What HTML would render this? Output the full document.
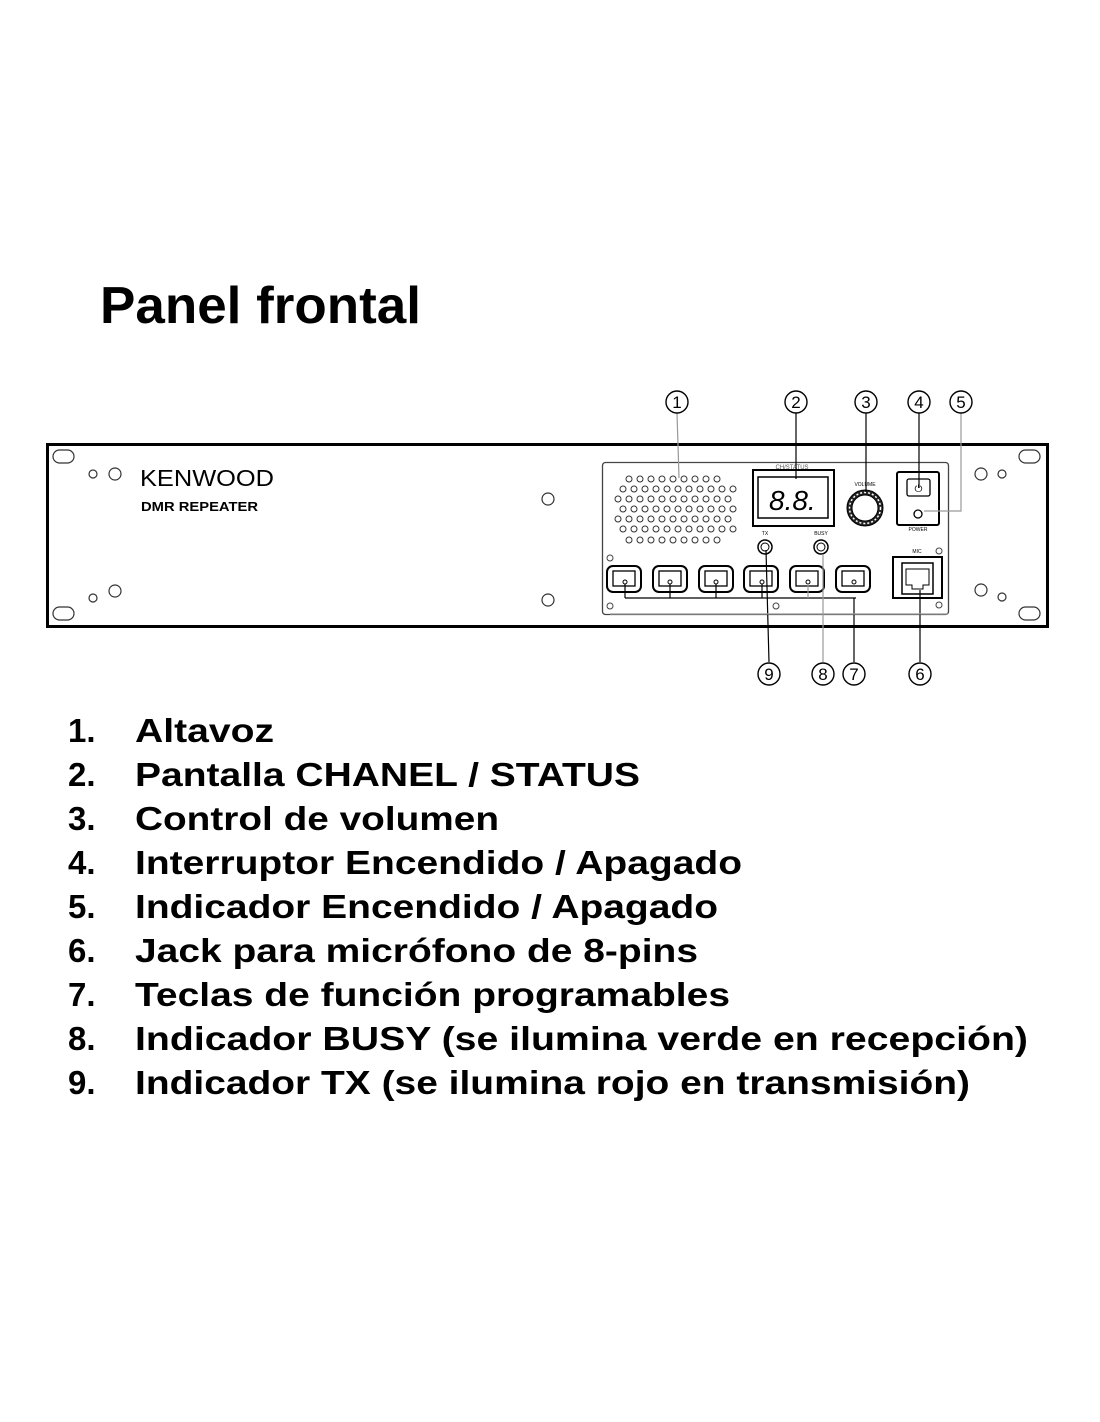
<!DOCTYPE html>
<html><head><meta charset="utf-8"><style>
html,body{margin:0;padding:0;background:#fff;}
svg{display:block;}
text{font-family:"Liberation Sans",Arial,sans-serif;}
</style></head><body>
<svg width="1100" height="1422" viewBox="0 0 1100 1422" xmlns="http://www.w3.org/2000/svg">
<rect width="1100" height="1422" fill="#fff"/>
<text x="100" y="323" font-size="52" font-weight="bold" textLength="321" lengthAdjust="spacingAndGlyphs">Panel frontal</text>

<!-- rack panel -->
<rect x="47.5" y="444.5" width="1000" height="182" fill="#fff" stroke="#000" stroke-width="3"/>
<g fill="none" stroke="#333" stroke-width="1.2">
<rect x="53" y="450" width="21" height="13" rx="6.5"/>
<rect x="53" y="607" width="21" height="13" rx="6.5"/>
<rect x="1019" y="450" width="21" height="13" rx="6.5"/>
<rect x="1019" y="607" width="21" height="13" rx="6.5"/>
<circle cx="93" cy="474" r="4"/><circle cx="115" cy="474" r="6"/>
<circle cx="93" cy="598" r="4"/><circle cx="115" cy="591" r="6"/>
<circle cx="548" cy="499" r="6"/><circle cx="548" cy="600" r="6"/>
<circle cx="981" cy="474" r="6"/><circle cx="1002" cy="474" r="4"/>
<circle cx="981" cy="590" r="6"/><circle cx="1002" cy="597" r="4"/>
</g>
<text x="140" y="486" font-size="23" textLength="134" lengthAdjust="spacingAndGlyphs">KENWOOD</text>
<text x="141" y="511" font-size="13" font-weight="bold" textLength="117" lengthAdjust="spacingAndGlyphs">DMR REPEATER</text>

<!-- inner panel -->
<rect x="602.5" y="462.5" width="346" height="152" rx="3" fill="none" stroke="#444" stroke-width="1.3"/>
<!-- speaker grille -->
<g fill="none" stroke="#333" stroke-width="1">
<g id="row">
</g>
</g>
<g fill="none" stroke="#333" stroke-width="1">
<circle cx="629" cy="479" r="3"/><circle cx="640" cy="479" r="3"/><circle cx="651" cy="479" r="3"/><circle cx="662" cy="479" r="3"/><circle cx="673" cy="479" r="3"/><circle cx="684" cy="479" r="3"/><circle cx="695" cy="479" r="3"/><circle cx="706" cy="479" r="3"/><circle cx="717" cy="479" r="3"/>
<circle cx="623" cy="489" r="3"/><circle cx="634" cy="489" r="3"/><circle cx="645" cy="489" r="3"/><circle cx="656" cy="489" r="3"/><circle cx="667" cy="489" r="3"/><circle cx="678" cy="489" r="3"/><circle cx="689" cy="489" r="3"/><circle cx="700" cy="489" r="3"/><circle cx="711" cy="489" r="3"/><circle cx="722" cy="489" r="3"/><circle cx="733" cy="489" r="3"/>
<circle cx="618" cy="499" r="3"/><circle cx="629" cy="499" r="3"/><circle cx="640" cy="499" r="3"/><circle cx="651" cy="499" r="3"/><circle cx="662" cy="499" r="3"/><circle cx="673" cy="499" r="3"/><circle cx="684" cy="499" r="3"/><circle cx="695" cy="499" r="3"/><circle cx="706" cy="499" r="3"/><circle cx="717" cy="499" r="3"/><circle cx="728" cy="499" r="3"/>
<circle cx="623" cy="509" r="3"/><circle cx="634" cy="509" r="3"/><circle cx="645" cy="509" r="3"/><circle cx="656" cy="509" r="3"/><circle cx="667" cy="509" r="3"/><circle cx="678" cy="509" r="3"/><circle cx="689" cy="509" r="3"/><circle cx="700" cy="509" r="3"/><circle cx="711" cy="509" r="3"/><circle cx="722" cy="509" r="3"/><circle cx="733" cy="509" r="3"/>
<circle cx="618" cy="519" r="3"/><circle cx="629" cy="519" r="3"/><circle cx="640" cy="519" r="3"/><circle cx="651" cy="519" r="3"/><circle cx="662" cy="519" r="3"/><circle cx="673" cy="519" r="3"/><circle cx="684" cy="519" r="3"/><circle cx="695" cy="519" r="3"/><circle cx="706" cy="519" r="3"/><circle cx="717" cy="519" r="3"/><circle cx="728" cy="519" r="3"/>
<circle cx="623" cy="529" r="3"/><circle cx="634" cy="529" r="3"/><circle cx="645" cy="529" r="3"/><circle cx="656" cy="529" r="3"/><circle cx="667" cy="529" r="3"/><circle cx="678" cy="529" r="3"/><circle cx="689" cy="529" r="3"/><circle cx="700" cy="529" r="3"/><circle cx="711" cy="529" r="3"/><circle cx="722" cy="529" r="3"/><circle cx="733" cy="529" r="3"/>
<circle cx="629" cy="540" r="3"/><circle cx="640" cy="540" r="3"/><circle cx="651" cy="540" r="3"/><circle cx="662" cy="540" r="3"/><circle cx="673" cy="540" r="3"/><circle cx="684" cy="540" r="3"/><circle cx="695" cy="540" r="3"/><circle cx="706" cy="540" r="3"/><circle cx="717" cy="540" r="3"/>
</g>

<!-- display -->
<rect x="753" y="470" width="81" height="56" fill="none" stroke="#000" stroke-width="2"/>
<rect x="758" y="477" width="70" height="41" fill="none" stroke="#000" stroke-width="1.5"/>
<text x="792" y="469" font-size="6" text-anchor="middle" fill="#555">CH/STATUS</text>
<text x="769" y="510" font-size="28" font-style="italic" fill="#000">8.8.</text>
<!-- volume knob -->
<text x="865" y="486" font-size="5" text-anchor="middle">VOLUME</text>
<circle cx="865" cy="508" r="18" fill="#222" stroke="#000"/>
<circle cx="865" cy="508" r="13" fill="#fff" stroke="#000"/>
<circle cx="865" cy="508" r="15.5" fill="none" stroke="#fff" stroke-width="1.5" stroke-dasharray="2 2"/>
<!-- power -->
<rect x="897" y="472" width="42" height="53" rx="2" fill="none" stroke="#000" stroke-width="2"/>
<rect x="907" y="479" width="23" height="17" rx="2" fill="none" stroke="#000" stroke-width="1.3"/>
<text x="918.5" y="492" font-size="10" text-anchor="middle">⏻</text>
<circle cx="918" cy="514" r="4" fill="none" stroke="#000" stroke-width="1.3"/>
<text x="918" y="531" font-size="5" text-anchor="middle">POWER</text>
<!-- TX / BUSY -->
<text x="765" y="535" font-size="5" text-anchor="middle">TX</text>
<text x="821" y="535" font-size="5" text-anchor="middle">BUSY</text>
<circle cx="765" cy="547" r="7" fill="none" stroke="#000" stroke-width="1.5"/><circle cx="765" cy="547" r="4" fill="none" stroke="#000"/>
<circle cx="821" cy="547" r="7" fill="none" stroke="#000" stroke-width="1.5"/><circle cx="821" cy="547" r="4" fill="none" stroke="#000"/>
<!-- small screws in inner panel -->
<g fill="none" stroke="#444"><circle cx="610" cy="558" r="3"/><circle cx="610" cy="606" r="3"/><circle cx="776" cy="606" r="3"/><circle cx="939" cy="551" r="3"/><circle cx="939" cy="605" r="3"/></g>
<!-- function keys -->
<g fill="none" stroke="#000">
<rect x="607" y="566" width="34" height="26" rx="6" stroke-width="2"/><rect x="613" y="571" width="22" height="15" stroke-width="1.3"/><circle cx="625" cy="582" r="2"/>
<rect x="653" y="566" width="34" height="26" rx="6" stroke-width="2"/><rect x="659" y="571" width="22" height="15" stroke-width="1.3"/><circle cx="670" cy="582" r="2"/>
<rect x="699" y="566" width="34" height="26" rx="6" stroke-width="2"/><rect x="705" y="571" width="22" height="15" stroke-width="1.3"/><circle cx="716" cy="582" r="2"/>
<rect x="744" y="566" width="34" height="26" rx="6" stroke-width="2"/><rect x="750" y="571" width="22" height="15" stroke-width="1.3"/><circle cx="762" cy="582" r="2"/>
<rect x="790" y="566" width="34" height="26" rx="6" stroke-width="2"/><rect x="796" y="571" width="22" height="15" stroke-width="1.3"/><circle cx="808" cy="582" r="2"/>
<rect x="836" y="566" width="34" height="26" rx="6" stroke-width="2"/><rect x="842" y="571" width="22" height="15" stroke-width="1.3"/><circle cx="854" cy="582" r="2"/>
</g>
<!-- mic jack -->
<text x="917" y="553" font-size="5" text-anchor="middle">MIC</text>
<rect x="893" y="557" width="49" height="41" fill="none" stroke="#000" stroke-width="2"/>
<rect x="902" y="563" width="31" height="31" fill="none" stroke="#000" stroke-width="1.5"/>
<path d="M906 569 h23 v16 h-6 v4 h-11 v-4 h-6 z" fill="none" stroke="#000"/>

<!-- leader lines -->
<g fill="none" stroke="#000" stroke-width="1.2">
<line x1="796" y1="413" x2="796" y2="479"/>
<line x1="866" y1="413" x2="866" y2="492"/>
<line x1="919" y1="413" x2="919" y2="488"/>
<line x1="769" y1="662" x2="766" y2="550"/>
<line x1="854" y1="662" x2="854" y2="598"/>
<line x1="625" y1="598" x2="856" y2="598"/>
<line x1="625" y1="584" x2="625" y2="598"/><line x1="670" y1="584" x2="670" y2="598"/><line x1="716" y1="584" x2="716" y2="598"/><line x1="762" y1="584" x2="762" y2="598"/>
<line x1="920" y1="662" x2="920" y2="590"/>
</g>
<g fill="none" stroke="#999" stroke-width="1.2">
<line x1="677" y1="413" x2="679" y2="478"/>
<polyline points="961,413 961,511 924,511"/>
<line x1="823" y1="662" x2="823" y2="554"/>
<line x1="808" y1="584" x2="808" y2="598"/>
<line x1="610" y1="614" x2="948" y2="614"/>
</g>

<!-- callout numbers -->
<g fill="none" stroke="#000" stroke-width="1.4">
<circle cx="677" cy="402" r="11"/><circle cx="796" cy="402" r="11"/><circle cx="866" cy="402" r="11"/><circle cx="919" cy="402" r="11"/><circle cx="961" cy="402" r="11"/>
<circle cx="769" cy="674" r="11"/><circle cx="823" cy="674" r="11"/><circle cx="854" cy="674" r="11"/><circle cx="920" cy="674" r="11"/>
</g>
<g font-size="17" text-anchor="middle">
<text x="677" y="408">1</text><text x="796" y="408">2</text><text x="866" y="408">3</text><text x="919" y="408">4</text><text x="961" y="408">5</text>
<text x="769" y="680">9</text><text x="823" y="680">8</text><text x="854" y="680">7</text><text x="920" y="680">6</text>
</g>

<!-- list -->
<g font-size="33" font-weight="bold">
<text x="68" y="742">1.</text><text x="135" y="742" textLength="139" lengthAdjust="spacingAndGlyphs">Altavoz</text>
<text x="68" y="786">2.</text><text x="135" y="786" textLength="505" lengthAdjust="spacingAndGlyphs">Pantalla CHANEL / STATUS</text>
<text x="68" y="830">3.</text><text x="135" y="830" textLength="364" lengthAdjust="spacingAndGlyphs">Control de volumen</text>
<text x="68" y="874">4.</text><text x="135" y="874" textLength="607" lengthAdjust="spacingAndGlyphs">Interruptor Encendido / Apagado</text>
<text x="68" y="918">5.</text><text x="135" y="918" textLength="583" lengthAdjust="spacingAndGlyphs">Indicador Encendido / Apagado</text>
<text x="68" y="962">6.</text><text x="135" y="962" textLength="563" lengthAdjust="spacingAndGlyphs">Jack para micrófono de 8-pins</text>
<text x="68" y="1006">7.</text><text x="135" y="1006" textLength="595" lengthAdjust="spacingAndGlyphs">Teclas de función programables</text>
<text x="68" y="1050">8.</text><text x="135" y="1050" textLength="893" lengthAdjust="spacingAndGlyphs">Indicador BUSY (se ilumina verde en recepción)</text>
<text x="68" y="1094">9.</text><text x="135" y="1094" textLength="835" lengthAdjust="spacingAndGlyphs">Indicador TX (se ilumina rojo en transmisión)</text>
</g>
</svg>
</body></html>
